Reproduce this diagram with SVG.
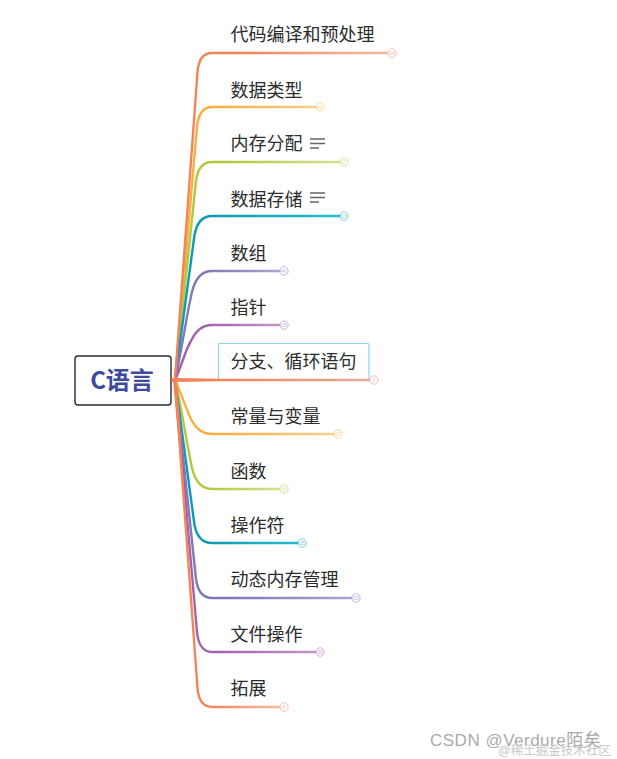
<svg xmlns="http://www.w3.org/2000/svg" width="617" height="759" viewBox="0 0 617 759">
<style>
.t{font-family:"Noto Sans CJK SC","Noto Sans",sans-serif;font-size:18px;fill:#2c2c2c}
.b{fill:none;stroke-width:2.400;stroke-linecap:round}
.c{fill:#fff;stroke-width:1;stroke-opacity:.5}
.n{font-family:"Liberation Sans",sans-serif;font-size:5px;text-anchor:middle;fill-opacity:.6}
.m{stroke:#666;stroke-width:1.500;fill:none}
.w{font-family:"Liberation Sans","Noto Sans CJK SC",sans-serif}
</style>
<defs>
<linearGradient id="g1"><stop offset="0" stop-color="#f58358"/><stop offset=".3" stop-color="#f58358"/><stop offset="1" stop-color="#f6b9a2"/></linearGradient>
<linearGradient id="g2"><stop offset="0" stop-color="#f9ae3f"/><stop offset=".3" stop-color="#f9ae3f"/><stop offset="1" stop-color="#f8cf8d"/></linearGradient>
<linearGradient id="g3"><stop offset="0" stop-color="#b3c83c"/><stop offset=".3" stop-color="#b3c83c"/><stop offset="1" stop-color="#d6df92"/></linearGradient>
<linearGradient id="g4"><stop offset="0" stop-color="#0c9ab4"/><stop offset=".3" stop-color="#0c9ab4"/><stop offset="1" stop-color="#24c0cf"/></linearGradient>
<linearGradient id="g5"><stop offset="0" stop-color="#7f79b8"/><stop offset=".3" stop-color="#7f79b8"/><stop offset="1" stop-color="#a9a4d0"/></linearGradient>
<linearGradient id="g6"><stop offset="0" stop-color="#a263ab"/><stop offset=".3" stop-color="#a263ab"/><stop offset="1" stop-color="#c295c8"/></linearGradient>
<linearGradient id="gm" gradientUnits="userSpaceOnUse" x1="172" y1="0" x2="369" y2="0"><stop offset="0" stop-color="#f58358"/><stop offset=".25" stop-color="#f58358"/><stop offset="1" stop-color="#e3ac9c"/></linearGradient>
</defs>
<rect width="617" height="759" fill="#fff"/>
<g id="root"><rect x="75" y="356" width="96" height="49" rx="3" fill="#fff" stroke="#2b2b2b" stroke-width="1.400"/><text x="122" y="389" text-anchor="middle" font-family="'Noto Sans CJK SC',sans-serif" font-size="24" font-weight="700" fill="#3f4a9e">C语言</text></g>
<g id="n1"><text class="t" x="230.500" y="41">代码编译和预处理</text><circle class="c" cx="392" cy="53" r="4.200" stroke="#f58358"/><text class="n" x="392" y="55" fill="#f58358">24</text></g>
<g id="n2"><text class="t" x="230.500" y="96.500">数据类型</text><circle class="c" cx="320" cy="107" r="4.200" stroke="#f9ae3f"/><text class="n" x="320" y="109" fill="#f9ae3f">10</text></g>
<g id="n3"><text class="t" x="230.500" y="150">内存分配</text><path class="m" d="M310 139H325M310 143.500H325M310 148H319"/><circle class="c" cx="344" cy="162" r="4.200" stroke="#b3c83c"/><text class="n" x="344" y="164" fill="#b3c83c">17</text></g>
<g id="n4"><text class="t" x="230.500" y="205.500">数据存储</text><path class="m" d="M310 193H325M310 197.500H325M310 202H319"/><circle class="c" cx="344" cy="216" r="4.200" stroke="#0c9ab4"/><text class="n" x="344" y="218" fill="#0c9ab4">13</text></g>
<g id="n5"><text class="t" x="230.500" y="259.500">数组</text><circle class="c" cx="284" cy="271" r="4.200" stroke="#7f79b8"/><text class="n" x="284" y="273" fill="#7f79b8">40</text></g>
<g id="n6"><text class="t" x="230.500" y="314">指针</text><circle class="c" cx="284" cy="325" r="4.200" stroke="#a263ab"/><text class="n" x="284" y="327" fill="#a263ab">25</text></g>
<g id="n7"><rect x="218.500" y="343.500" width="150.500" height="37" rx="1" fill="none" stroke="#88d6ee" stroke-width="1.200"/><text class="t" x="230.500" y="367.500">分支、循环语句</text><circle class="c" cx="374" cy="380" r="4.200" stroke="#f58358"/><text class="n" x="374" y="382" fill="#f58358">2</text></g>
<g id="n8"><text class="t" x="230.500" y="423">常量与变量</text><circle class="c" cx="338" cy="434" r="4.200" stroke="#f9ae3f"/><text class="n" x="338" y="436" fill="#f9ae3f">23</text></g>
<g id="n9"><text class="t" x="230.500" y="477.500">函数</text><circle class="c" cx="284" cy="489" r="4.200" stroke="#b3c83c"/><text class="n" x="284" y="491" fill="#b3c83c">30</text></g>
<g id="n10"><text class="t" x="230.500" y="532">操作符</text><circle class="c" cx="302" cy="543" r="4.200" stroke="#0c9ab4"/><text class="n" x="302" y="545" fill="#0c9ab4">25</text></g>
<g id="n11"><text class="t" x="230.500" y="586">动态内存管理</text><circle class="c" cx="356" cy="598" r="4.200" stroke="#7f79b8"/><text class="n" x="356" y="600" fill="#7f79b8">33</text></g>
<g id="n12"><text class="t" x="230.500" y="641">文件操作</text><circle class="c" cx="320" cy="652" r="4.200" stroke="#a263ab"/><text class="n" x="320" y="654" fill="#a263ab">35</text></g>
<g id="n13"><text class="t" x="230.500" y="695">拓展</text><circle class="c" cx="284" cy="707" r="4.200" stroke="#f58358"/><text class="n" x="284" y="709" fill="#f58358">8</text></g>
<g id="connectors">
<path class="b" stroke="url(#g2)" d="M175 380L197 127Q199 107 212 107H315.500"/>
<path class="b" stroke="url(#g3)" d="M175 380L196 181Q198.500 162 212 162H339.500"/>
<path class="b" stroke="url(#g4)" d="M175 380L194.500 235Q198 216 212 216H339.500"/>
<path class="b" stroke="url(#g5)" d="M175 380C181 355 187 312 192 292Q197 271 212 271H279.500"/>
<path class="b" stroke="url(#g6)" d="M175 380C181 368 185 350 192 339Q199 325 212 325H279.500"/>
<path class="b" stroke="url(#g1)" d="M175 380L197.500 72Q199 53 212 53H387.500"/>
<path class="b" stroke="url(#g2)" d="M175 380C181 392 186 410 192 421Q199 434 212 434H333.500"/>
<path class="b" stroke="url(#g3)" d="M175 380C181 405 187 445 192 468Q197 489 212 489H279.500"/>
<path class="b" stroke="url(#g4)" d="M175 380L194.500 525Q198 543 212 543H297.500"/>
<path class="b" stroke="url(#g5)" d="M175 380L196 579Q198.500 598 212 598H351.500"/>
<path class="b" stroke="url(#g6)" d="M175 380L197 632Q199 652 212 652H315.500"/>
<path class="b" stroke="url(#g1)" d="M175 380L197.500 688Q199 707 212 707H279.500"/>
<path fill="#f58358" d="M173 380L177 380L184 490L183 490Z"/>
<path class="b" stroke="url(#gm)" d="M173 380H369"/>
<path fill="#f58358" d="M171.500 378H176L218 379V381L176 382H171.500Z"/>
</g>
<text class="w" x="430" y="746" font-size="17" letter-spacing=".5" fill="#aaa">CSDN @Verdure陌矣</text>
<text class="w" x="498" y="755" font-size="12.500" fill="#c8c8c8">@稀土掘金技术社区</text>
</svg>
